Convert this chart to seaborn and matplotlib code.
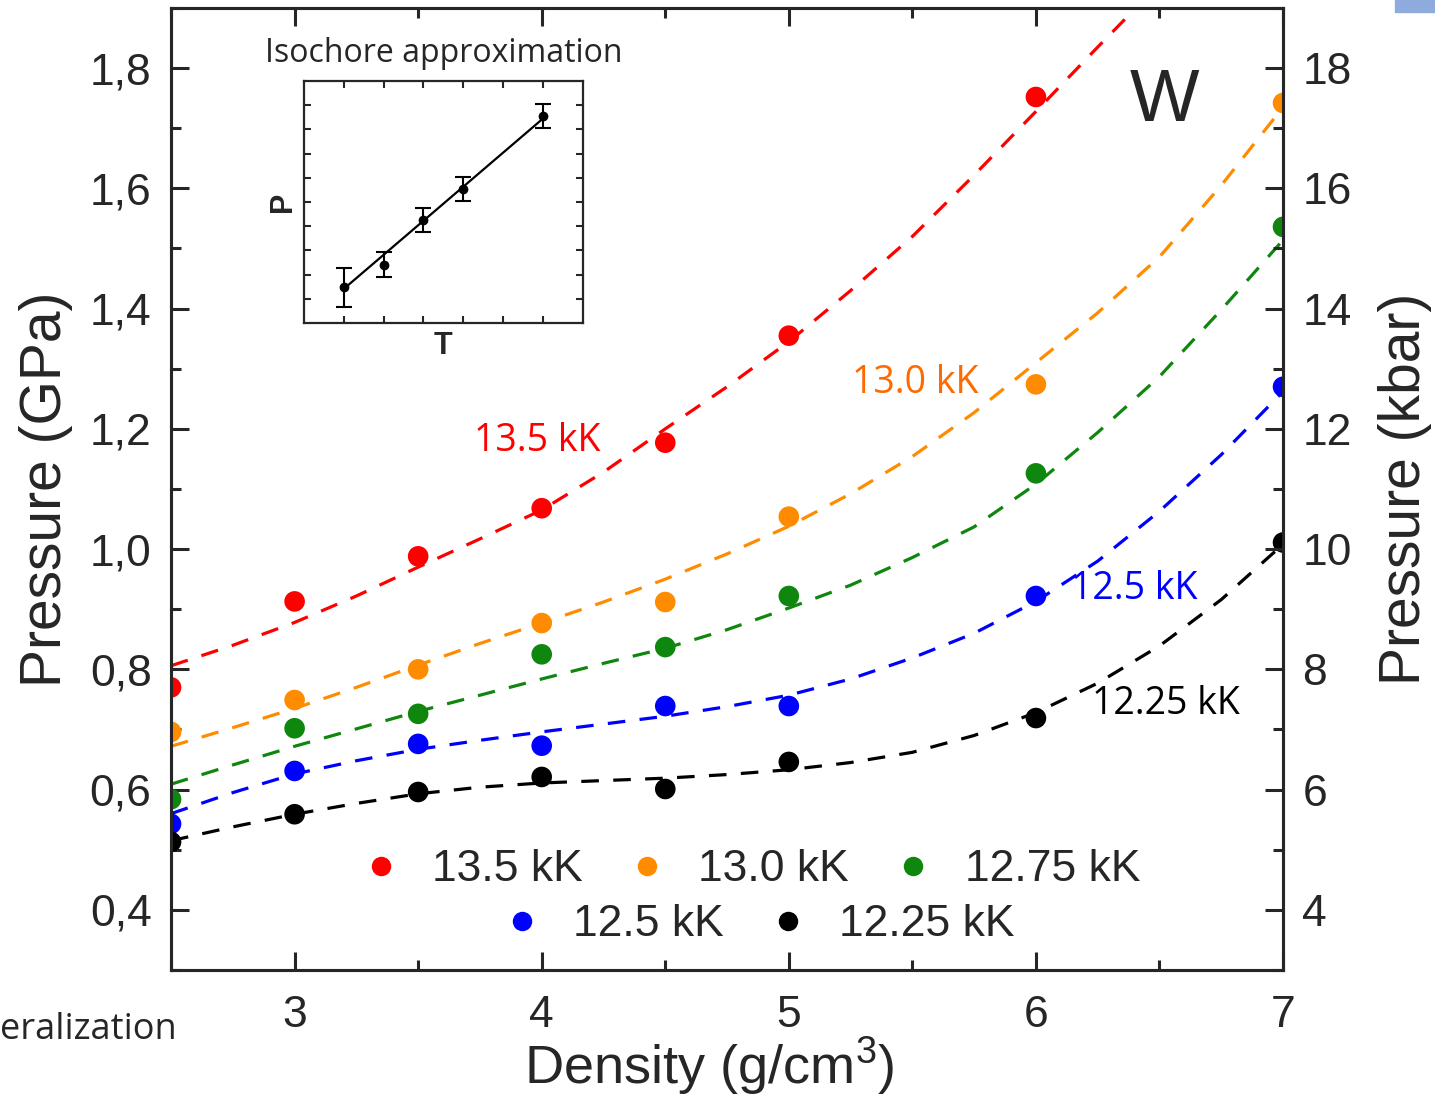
import numpy as np
import pandas as pd
import seaborn as sns
import matplotlib.pyplot as plt
from matplotlib.lines import Line2D
from matplotlib.patches import Rectangle
from matplotlib.ticker import MultipleLocator, FuncFormatter

# === Data ===
temps = ["13.5 kK", "13.0 kK", "12.75 kK", "12.5 kK", "12.25 kK"]
colors = ["#ff0000", "#ff8c00", "#0f870f", "#0000ff", "#000000"]

density = [2.5, 3.0, 3.5, 4.0, 4.5, 5.0, 6.0, 7.0]
p_135 = [0.770, 0.913, 0.988, 1.068, 1.177, 1.355, 1.752, np.nan]
p_130 = [0.696, 0.749, 0.800, 0.877, 0.912, 1.054, 1.274, 1.742]
p_1275 = [0.584, 0.702, 0.726, 0.825, 0.837, 0.922, 1.126, 1.536]
p_125 = [0.543, 0.631, 0.676, 0.673, 0.739, 0.739, 0.922, 1.270]
p_1225 = [0.513, 0.559, 0.596, 0.621, 0.601, 0.646, 0.719, 1.011]

# dashed fit curves
fit_density = [2.5, 2.75, 3.0, 3.25, 3.5, 3.75, 4.0, 4.25, 4.5, 4.75,
               5.0, 5.25, 5.5, 5.75, 6.0, 6.25, 6.5, 6.75, 7.0]
fit_135 = [0.806, 0.840, 0.878, 0.922, 0.970, 1.017, 1.065, 1.128, 1.200, 1.270,
           1.345, 1.430, 1.520, 1.622, 1.728, 1.835, 1.940, np.nan, np.nan]
fit_130 = [0.672, 0.703, 0.735, 0.770, 0.807, 0.843, 0.877, 0.912, 0.950, 0.992,
           1.038, 1.092, 1.154, 1.227, 1.310, 1.393, 1.486, 1.605, 1.735]
fit_1275 = [0.609, 0.641, 0.672, 0.701, 0.730, 0.757, 0.784, 0.810, 0.835, 0.866,
            0.902, 0.940, 0.986, 1.037, 1.108, 1.194, 1.287, 1.398, 1.514]
fit_125 = [0.560, 0.595, 0.626, 0.648, 0.667, 0.682, 0.696, 0.709, 0.722, 0.738,
           0.757, 0.784, 0.819, 0.860, 0.913, 0.980, 1.063, 1.157, 1.262]
fit_1225 = [0.515, 0.538, 0.559, 0.577, 0.593, 0.604, 0.611, 0.615, 0.619, 0.625,
            0.633, 0.645, 0.662, 0.690, 0.728, 0.777, 0.839, 0.916, 1.008]

# inset (isochore approximation)
ins_T = [1, 2, 3, 4, 6]
ins_P = [1.48, 2.41, 4.24, 5.55, 8.56]
ins_err = [0.80, 0.51, 0.50, 0.50, 0.51]
ins_fit_T = [1, 6]
ins_fit_P = [1.41, 8.45]

points = [p_135, p_130, p_1275, p_125, p_1225]
fits = [fit_135, fit_130, fit_1275, fit_125, fit_1225]

pts_df = pd.concat([pd.DataFrame({"density": density, "P": p, "T": t})
                    for p, t in zip(points, temps)], ignore_index=True)
fit_df = pd.concat([pd.DataFrame({"density": fit_density, "P": f, "T": t})
                    for f, t in zip(fits, temps)], ignore_index=True)

# === Style ===
sns.set_style("ticks")
plt.rcParams["font.family"] = ["Liberation Sans", "DejaVu Sans"]
plt.rcParams["mathtext.fontset"] = "custom"
plt.rcParams["mathtext.rm"] = "Liberation Sans"
plt.rcParams["mathtext.it"] = "Liberation Sans:italic"
plt.rcParams["axes.linewidth"] = 2.2
CAL = ["Open Sans", "DejaVu Sans"]

fig = plt.figure(figsize=(14.35, 10.96), dpi=100)
ax = fig.add_axes([0.1192, 0.115, 0.7749, 0.8777])

# === Fits and points ===
for t, c in zip(temps, colors):
    sub = fit_df[fit_df["T"] == t].dropna()
    sns.lineplot(data=sub, x="density", y="P", color=c, lw=2.3,
                 linestyle=(0, (5.5, 4.5)), errorbar=None, ax=ax, zorder=2)
for t, c in zip(temps, colors):
    sub = pts_df[pts_df["T"] == t].dropna()
    sns.scatterplot(data=sub, x="density", y="P", color=c, s=220,
                    edgecolor="none", ax=ax, zorder=3)

ax.set_xlim(2.5, 7)
ax.set_ylim(0.3, 1.9)
ax.xaxis.set_major_locator(MultipleLocator(1))
ax.xaxis.set_minor_locator(MultipleLocator(0.5))
ax.yaxis.set_major_locator(MultipleLocator(0.2))
ax.yaxis.set_minor_locator(MultipleLocator(0.1))
ax.yaxis.set_major_formatter(FuncFormatter(lambda v, _: f"{v:.1f}".replace(".", ",")))
ax.tick_params(which="both", direction="in", top=True, right=False, width=2.2,
               labelsize=32)
ax.tick_params(which="major", length=13)
ax.tick_params(which="minor", length=7)
ax.tick_params(axis="x", pad=18)
ax.tick_params(axis="y", pad=14)
ax.set_xlabel("Density (g/cm$^{3}$)", fontsize=39)
ax.xaxis.set_label_coords(0.484, -0.1185)
ax.xaxis.label.set_va("baseline")
ax.set_ylabel("Pressure (GPa)", fontsize=41, labelpad=12)

# right axis in kbar
ax2 = ax.twinx()
ax2.set_ylim(3, 19)
ax2.yaxis.set_major_locator(MultipleLocator(2))
ax2.yaxis.set_minor_locator(MultipleLocator(1))
ax2.tick_params(which="both", direction="in", width=2.2, labelsize=32, pad=14)
ax2.tick_params(which="major", length=13)
ax2.tick_params(which="minor", length=7)
ax2.set_ylabel("Pressure (kbar)", fontsize=41, labelpad=19)

# === Curve labels ===
ax.text(3.983, 1.179, "13.5 kK", color="#ff0000", fontsize=27, family=CAL,
        ha="center", va="center")
ax.text(5.511, 1.277, "13.0 kK", color="#ff6a00", fontsize=27, family=CAL,
        ha="center", va="center")
ax.text(6.397, 0.933, "12.5 kK", color="#0000ff", fontsize=27, family=CAL,
        ha="center", va="center")
ax.text(6.526, 0.742, "12.25 kK", color="#000000", fontsize=27, family=CAL,
        ha="center", va="center")
ax.text(6.522, 1.745, "W", fontsize=53, ha="center", va="center")

# === Legend: two centred rows ===
handles = [Line2D([], [], ls="none", marker="o", ms=14, color=c, mec="none")
           for c in colors]
leg_kw = dict(frameon=False, fontsize=32, handlelength=0.5, handletextpad=0.9,
              columnspacing=1.2, borderaxespad=0, loc="center")
leg1 = ax.legend(handles[:3], temps[:3], ncol=3, bbox_to_anchor=(0.525, 0.104),
                 **leg_kw)
ax.add_artist(leg1)
ax.legend(handles[3:], temps[3:], ncol=2, bbox_to_anchor=(0.532, 0.047), **leg_kw)

# === Inset ===
ins = fig.add_axes([0.2118, 0.7053, 0.1944, 0.2208])
for s in ins.spines.values():
    s.set_linewidth(1.6)
ins.errorbar(ins_T, ins_P, yerr=ins_err, fmt="o", color="black", ms=6,
             capsize=6, elinewidth=1.5, capthick=1.5)
sns.lineplot(x=ins_fit_T, y=ins_fit_P, color="black", lw=1.6, ax=ins)
ins.set_xlim(0, 7)
ins.set_ylim(0, 10)
ins.set_xticks([1, 2, 3, 4, 5, 6])
ins.set_yticks(range(1, 10))
ins.tick_params(direction="in", top=True, right=True, length=5, width=1.5,
                labelbottom=False, labelleft=False)
ins.set_xlabel("T", fontsize=22, fontweight="bold", labelpad=6)
ins.set_ylabel("P", fontsize=22, fontweight="bold", labelpad=4)
fig.text(444 / 1435, 1 - 53 / 1096, "Isochore approximation", fontsize=23,
         family=CAL, ha="center", va="center")

# slide remnants
fig.text(0, 1 - 1030 / 1096, "eralization", fontsize=26, family=CAL,
         ha="left", va="center")
fig.patches.append(Rectangle((1395 / 1435, 1 - 12 / 1096), 40 / 1435, 12 / 1096,
                             transform=fig.transFigure, color="#8faadc"))

fig.savefig("out.png", dpi=100)
